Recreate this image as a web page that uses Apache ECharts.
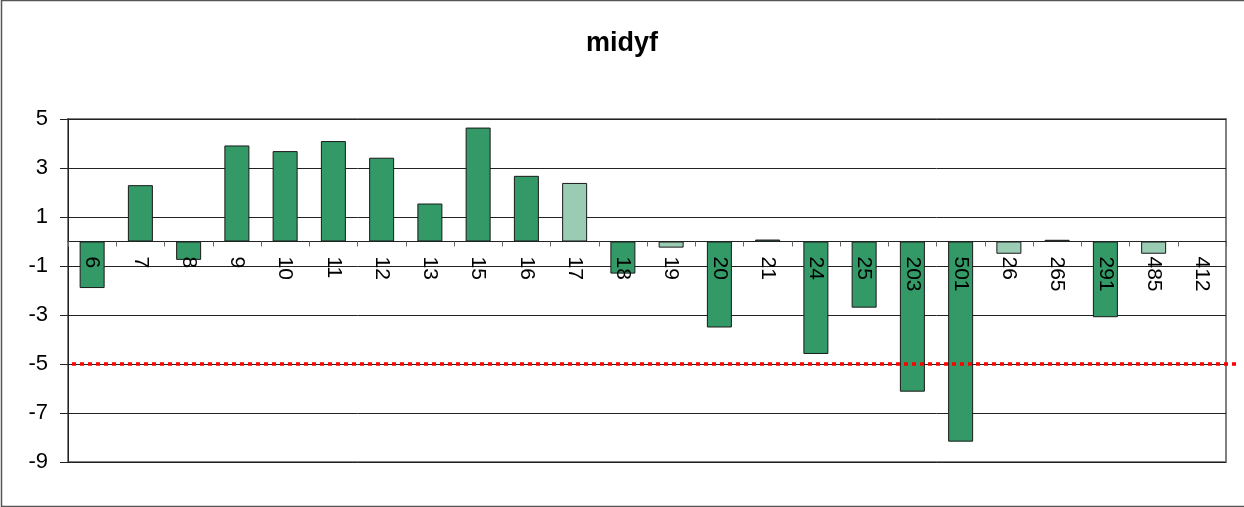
<!DOCTYPE html>
<html>
<head>
<meta charset="utf-8">
<script src="https://cdn.jsdelivr.net/npm/echarts@6/dist/echarts.min.js"></script>
<style>
html,body{margin:0;padding:0;background:#fff;}
#c{width:1244px;height:507px;}
</style>
</head>
<body>
<div id="c"></div>
<script>
const categories = ['6','7','8','9','10','11','12','13','15','16','17','18','19','20','21','24','25','203','501','26','265','291','485','412'];
const values = [-1.90, 2.30, -0.75, 3.92, 3.69, 4.10, 3.42, 1.55, 4.65, 2.68, 2.39, -1.31, -0.25, -3.51, 0.08, -4.59, -2.70, -6.13, -8.17, -0.50, 0.07, -3.09, -0.50, null];
const lightCategories = ['17','19','26','485'];
const thresholdValue = -5;
const yMin = -9, yMax = 5, yStep = 2;
const titleText = 'midyf';

const FONT = "'Liberation Sans', Arial, sans-serif";
const GRID = { left: 68, right: 18, top: 119, bottom: 45 };
const plotH = 507 - GRID.top - GRID.bottom;
const zeroOffset = -plotH * (0 - yMin) / (yMax - yMin);

const chart = echarts.init(document.getElementById('c'), null, {renderer: 'canvas'});
const dataItems = values.map((v, i) => ({
  value: v,
  itemStyle: { color: lightCategories.includes(categories[i]) ? '#99CCB3' : '#339966' }
}));
chart.setOption({
  animation: false,
  backgroundColor: '#fff',
  title: {
    text: titleText, left: 'center', top: 25,
    textStyle: { fontFamily: FONT, fontSize: 27, fontWeight: 'bold', color: '#000' }
  },
  grid: Object.assign({}, GRID, {
    outerBoundsMode: 'none', containLabel: false,
    show: true, borderColor: '#808080', borderWidth: 2, backgroundColor: 'transparent'
  }),
  graphic: [{
    type: 'rect', silent: true, z: -10,
    shape: { x: 1.5, y: 0.5, width: 1260, height: 506 },
    style: { fill: 'none', stroke: '#555', lineWidth: 1.5 }
  }],
  xAxis: {
    type: 'category', data: categories,
    offset: zeroOffset,
    axisLine: { onZero: false, lineStyle: { color: '#222', width: 1 } },
    axisTick: { show: true, length: 5, lineStyle: { color: '#666' } },
    axisLabel: { rotate: -90, margin: 15, fontSize: 21, color: '#000', fontFamily: FONT, interval: 0 },
    splitLine: { show: false },
    z: 5
  },
  yAxis: {
    type: 'value', min: yMin, max: yMax, interval: yStep,
    axisLine: { show: true, lineStyle: { color: '#222', width: 1 } },
    axisTick: { show: true, length: 8, lineStyle: { color: '#222' } },
    axisLabel: { fontSize: 22, color: '#000', fontFamily: FONT, margin: 20 },
    splitLine: { show: true, lineStyle: { color: '#222', width: 1 } }
  },
  series: [{
    type: 'bar', data: dataItems, barWidth: 25, clip: false, z: 3,
    itemStyle: { borderColor: '#1a1a1a', borderWidth: 1 },
    markLine: {
      silent: true, symbol: 'none', clip: false, z: 10,
      label: { show: false },
      lineStyle: { color: '#ff0000', width: 3.5, type: [4, 4] },
      data: [[{ x: 72, yAxis: thresholdValue }, { x: 1238, yAxis: thresholdValue }]]
    }
  }]
});
</script>
</body>
</html>
